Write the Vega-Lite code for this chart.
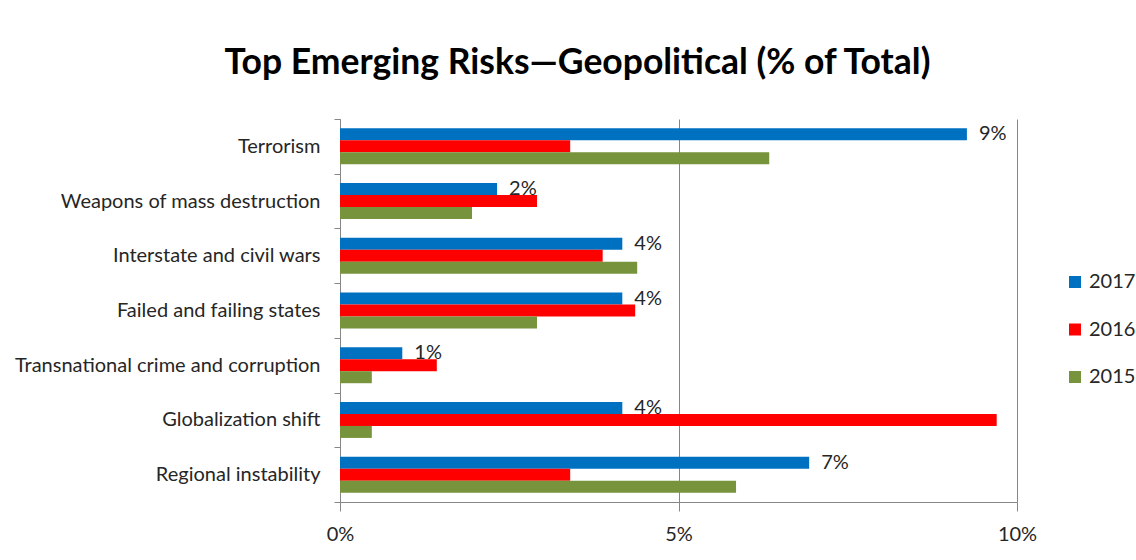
{
  "$schema": "https://vega.github.io/schema/vega-lite/v6.json",
  "width": 677,
  "height": 383,
  "autosize": {"type": "none"},
  "padding": {"left": 340, "top": 119, "right": 119, "bottom": 58},
  "background": "white",
  "title": {
    "text": "Top Emerging Risks—Geopolitical (% of Total)",
    "font": "Lato",
    "fontSize": 35.5,
    "fontWeight": "bold",
    "color": "black",
    "anchor": "middle",
    "frame": "group",
    "dx": -101,
    "baseline": "bottom",
    "offset": -7
  },
  "data": {
    "values": [
      {"risk": "Terrorism", "year": "2017", "value": 0.0926},
      {"risk": "Terrorism", "year": "2016", "value": 0.034},
      {"risk": "Terrorism", "year": "2015", "value": 0.0634},
      {"risk": "Weapons of mass destruction", "year": "2017", "value": 0.0232},
      {"risk": "Weapons of mass destruction", "year": "2016", "value": 0.0291},
      {"risk": "Weapons of mass destruction", "year": "2015", "value": 0.0195},
      {"risk": "Interstate and civil wars", "year": "2017", "value": 0.0417},
      {"risk": "Interstate and civil wars", "year": "2016", "value": 0.0388},
      {"risk": "Interstate and civil wars", "year": "2015", "value": 0.0439},
      {"risk": "Failed and failing states", "year": "2017", "value": 0.0417},
      {"risk": "Failed and failing states", "year": "2016", "value": 0.0436},
      {"risk": "Failed and failing states", "year": "2015", "value": 0.0291},
      {"risk": "Transnational crime and corruption", "year": "2017", "value": 0.0092},
      {"risk": "Transnational crime and corruption", "year": "2016", "value": 0.0143},
      {"risk": "Transnational crime and corruption", "year": "2015", "value": 0.0047},
      {"risk": "Globalization shift", "year": "2017", "value": 0.0417},
      {"risk": "Globalization shift", "year": "2016", "value": 0.097},
      {"risk": "Globalization shift", "year": "2015", "value": 0.0047},
      {"risk": "Regional instability", "year": "2017", "value": 0.0693},
      {"risk": "Regional instability", "year": "2016", "value": 0.034},
      {"risk": "Regional instability", "year": "2015", "value": 0.0585}
    ]
  },
  "encoding": {
    "y": {
      "field": "risk",
      "type": "nominal",
      "sort": null,
      "scale": {"paddingInner": 0, "paddingOuter": 0},
      "axis": {
        "title": null,
        "tickBand": "extent",
        "domainColor": "#868686",
        "tickColor": "#868686",
        "tickSize": 6,
        "labelPadding": 14,
        "labelFontSize": 20,
        "labelFont": "Lato",
        "labelColor": "#262626",
        "labelLimit": 0,
        "grid": false
      }
    },
    "x": {
      "field": "value",
      "type": "quantitative",
      "scale": {"domain": [0, 0.1], "nice": false},
      "axis": {
        "title": null,
        "format": ".0%",
        "values": [0, 0.05, 0.1],
        "grid": true,
        "gridColor": "#868686",
        "domainColor": "#868686",
        "tickColor": "#868686",
        "tickSize": 9,
        "labelFontSize": 20,
        "labelFont": "Lato",
        "labelColor": "#262626",
        "labelPadding": 13,
        "labelFlush": false
      }
    },
    "yOffset": {
      "field": "year",
      "type": "nominal",
      "sort": ["2017", "2016", "2015"],
      "scale": {"paddingInner": 0, "paddingOuter": 0.78}
    }
  },
  "layer": [
    {
      "mark": {"type": "bar"},
      "encoding": {
        "color": {
          "field": "year",
          "type": "nominal",
          "scale": {"domain": ["2017", "2016", "2015"], "range": ["#0070C0", "#FF0000", "#77933C"]},
          "legend": {
            "title": null,
            "orient": "none",
            "legendX": 725,
            "legendY": 153,
            "padding": 0,
            "symbolType": "square",
            "symbolSize": 144,
            "symbolStrokeWidth": 0,
            "labelFontSize": 20,
            "labelFont": "Lato",
            "labelColor": "#262626",
            "labelOffset": 4,
            "rowPadding": 27.5
          }
        }
      }
    },
    {
      "transform": [{"filter": "datum.year == '2017'"}],
      "mark": {
        "type": "text",
        "align": "left",
        "baseline": "middle",
        "dx": 12,
        "fontSize": 20,
        "font": "Lato",
        "color": "#262626"
      },
      "encoding": {
        "text": {"field": "value", "type": "quantitative", "format": ".0%"}
      }
    }
  ],
  "config": {"view": {"stroke": null}}
}
